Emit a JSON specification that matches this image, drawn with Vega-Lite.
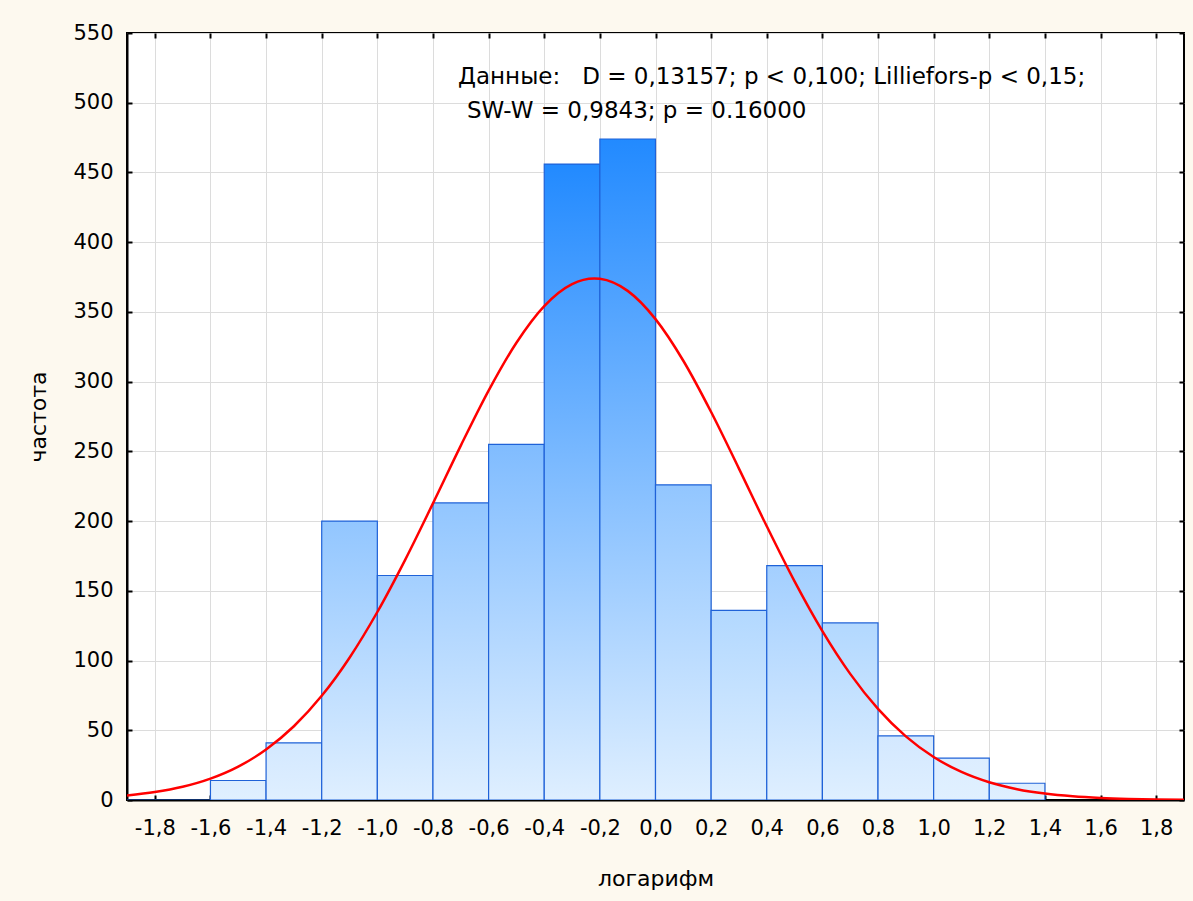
{
  "$schema": "https://vega.github.io/schema/vega-lite/v6.json",
  "width": 1057,
  "height": 767,
  "autosize": {"type": "none"},
  "padding": {"left": 127, "top": 33, "right": 9, "bottom": 101},
  "background": "#FDF9EF",
  "config": {
    "view": {"fill": "white", "stroke": "black", "strokeWidth": 2},
    "font": "DejaVu Sans",
    "axis": {
      "gridColor": "#dcdcdc", "gridWidth": 1,
      "domainColor": "black", "domainWidth": 2,
      "tickColor": "black", "tickSize": -5, "tickWidth": 2,
      "labelFont": "DejaVu Sans", "labelFontSize": 21, "labelColor": "black",
      "titleFont": "DejaVu Sans", "titleFontSize": 22, "titleFontWeight": "normal", "titleColor": "black"
    }
  },
  "datasets": {
    "bins": [
      {"x0": -2.0, "x1": -1.8, "count": 0},
      {"x0": -1.8, "x1": -1.6, "count": 0},
      {"x0": -1.6, "x1": -1.4, "count": 14},
      {"x0": -1.4, "x1": -1.2, "count": 41},
      {"x0": -1.2, "x1": -1.0, "count": 200},
      {"x0": -1.0, "x1": -0.8, "count": 161},
      {"x0": -0.8, "x1": -0.6, "count": 213},
      {"x0": -0.6, "x1": -0.4, "count": 255},
      {"x0": -0.4, "x1": -0.2, "count": 456},
      {"x0": -0.2, "x1": 0.0, "count": 474},
      {"x0": 0.0, "x1": 0.2, "count": 226},
      {"x0": 0.2, "x1": 0.4, "count": 136},
      {"x0": 0.4, "x1": 0.6, "count": 168},
      {"x0": 0.6, "x1": 0.8, "count": 127},
      {"x0": 0.8, "x1": 1.0, "count": 46},
      {"x0": 1.0, "x1": 1.2, "count": 30},
      {"x0": 1.2, "x1": 1.4, "count": 12}
    ],
    "curve": [
      {"x": -1.9, "y": 3.29}, {"x": -1.8, "y": 5.68}, {"x": -1.7, "y": 9.49}, {"x": -1.6, "y": 15.34},
      {"x": -1.5, "y": 23.96}, {"x": -1.4, "y": 36.2}, {"x": -1.3, "y": 52.88}, {"x": -1.2, "y": 74.7},
      {"x": -1.1, "y": 102.05}, {"x": -1.0, "y": 134.81}, {"x": -0.9, "y": 172.22}, {"x": -0.8, "y": 212.73},
      {"x": -0.7, "y": 254.13}, {"x": -0.6, "y": 293.57}, {"x": -0.5, "y": 327.92}, {"x": -0.4, "y": 354.22},
      {"x": -0.3, "y": 370.01}, {"x": -0.22, "y": 374.0}, {"x": -0.2, "y": 373.75}, {"x": -0.1, "y": 365.08},
      {"x": 0.0, "y": 344.84}, {"x": 0.1, "y": 314.98}, {"x": 0.2, "y": 278.21}, {"x": 0.3, "y": 237.65},
      {"x": 0.4, "y": 196.29}, {"x": 0.5, "y": 156.77}, {"x": 0.6, "y": 121.09}, {"x": 0.7, "y": 90.44},
      {"x": 0.8, "y": 65.32}, {"x": 0.9, "y": 45.62}, {"x": 1.0, "y": 30.81}, {"x": 1.1, "y": 20.13},
      {"x": 1.2, "y": 12.71}, {"x": 1.3, "y": 7.76}, {"x": 1.4, "y": 4.59}, {"x": 1.5, "y": 2.62},
      {"x": 1.6, "y": 1.45}, {"x": 1.7, "y": 0.77}, {"x": 1.8, "y": 0.4}, {"x": 1.9, "y": 0.2}
    ],
    "notes": [
      {"tx": -0.71, "ty": 518.5, "label": "Данные:\u00a0\u00a0\u00a0D = 0,13157; p < 0,100; Lilliefors-p < 0,15;"},
      {"tx": -0.678, "ty": 494, "label": "SW-W = 0,9843; p = 0.16000"}
    ]
  },
  "resolve": {"axis": {"x": "independent", "y": "independent"}},
  "layer": [
    {
      "data": {"name": "bins"},
      "mark": {"type": "rect", "stroke": "#1f62d8", "strokeWidth": 1.2, "clip": true},
      "encoding": {
        "x": {
          "field": "x0", "type": "quantitative",
          "scale": {"domain": [-1.9, 1.9], "nice": false, "zero": false},
          "axis": {
            "orient": "bottom",
            "values": [-1.8, -1.6, -1.4, -1.2, -1.0, -0.8, -0.6, -0.4, -0.2, 0, 0.2, 0.4, 0.6, 0.8, 1.0, 1.2, 1.4, 1.6, 1.8],
            "labelExpr": "replace(replace(format(datum.value, '.1f'), '.', ','), '\u2212', '-')",
            "labelPadding": 22,
            "title": "логарифм",
            "titlePadding": 30
          }
        },
        "x2": {"field": "x1"},
        "y": {
          "field": "count", "type": "quantitative",
          "scale": {"domain": [0, 550], "nice": false},
          "axis": {
            "orient": "left",
            "values": [0, 50, 100, 150, 200, 250, 300, 350, 400, 450, 500, 550],
            "labelPadding": 19,
            "title": "частота",
            "titlePadding": 22
          }
        },
        "y2": {"datum": 0},
        "fill": {
          "condition": [
            {"test": "datum.count >= 400", "value": {"gradient": "linear", "x1": 0, "y1": 0, "x2": 0, "y2": 1, "stops": [{"offset": 0, "color": "#228AFF"}, {"offset": 1, "color": "#DFEFFF"}]}},
            {"test": "datum.count >= 240", "value": {"gradient": "linear", "x1": 0, "y1": 0, "x2": 0, "y2": 1, "stops": [{"offset": 0, "color": "#80BCFF"}, {"offset": 1, "color": "#DFEFFF"}]}},
            {"test": "datum.count >= 195", "value": {"gradient": "linear", "x1": 0, "y1": 0, "x2": 0, "y2": 1, "stops": [{"offset": 0, "color": "#92C6FF"}, {"offset": 1, "color": "#DFEFFF"}]}},
            {"test": "datum.count >= 150", "value": {"gradient": "linear", "x1": 0, "y1": 0, "x2": 0, "y2": 1, "stops": [{"offset": 0, "color": "#A3CFFF"}, {"offset": 1, "color": "#DFEFFF"}]}},
            {"test": "datum.count >= 100", "value": {"gradient": "linear", "x1": 0, "y1": 0, "x2": 0, "y2": 1, "stops": [{"offset": 0, "color": "#B2D8FF"}, {"offset": 1, "color": "#DFEFFF"}]}},
            {"test": "datum.count >= 35", "value": {"gradient": "linear", "x1": 0, "y1": 0, "x2": 0, "y2": 1, "stops": [{"offset": 0, "color": "#D3E8FF"}, {"offset": 1, "color": "#DFEFFF"}]}}
          ],
          "value": {"gradient": "linear", "x1": 0, "y1": 0, "x2": 0, "y2": 1, "stops": [{"offset": 0, "color": "#DCEDFF"}, {"offset": 1, "color": "#E0F0FF"}]}
        }
      }
    },
    {
      "data": {"name": "curve"},
      "mark": {"type": "line", "color": "#FF0000", "strokeWidth": 2.5, "interpolate": "monotone", "clip": true},
      "encoding": {
        "x": {
          "field": "x", "type": "quantitative",
          "scale": {"domain": [-1.9, 1.9], "nice": false, "zero": false},
          "axis": {
            "orient": "top", "labels": false, "title": null, "grid": false, "domain": false,
            "values": [-1.8, -1.6, -1.4, -1.2, -1.0, -0.8, -0.6, -0.4, -0.2, 0, 0.2, 0.4, 0.6, 0.8, 1.0, 1.2, 1.4, 1.6, 1.8]
          }
        },
        "y": {
          "field": "y", "type": "quantitative",
          "scale": {"domain": [0, 550], "nice": false},
          "axis": {
            "orient": "right", "labels": false, "title": null, "grid": false, "domain": false,
            "values": [0, 50, 100, 150, 200, 250, 300, 350, 400, 450, 500, 550]
          }
        }
      }
    },
    {
      "data": {"name": "notes"},
      "mark": {"type": "text", "align": "left", "baseline": "middle", "font": "DejaVu Sans", "fontSize": 23, "color": "black"},
      "encoding": {
        "x": {"field": "tx", "type": "quantitative", "scale": {"domain": [-1.9, 1.9], "nice": false, "zero": false}, "axis": null},
        "y": {"field": "ty", "type": "quantitative", "scale": {"domain": [0, 550], "nice": false}, "axis": null},
        "text": {"field": "label"}
      }
    }
  ]
}
